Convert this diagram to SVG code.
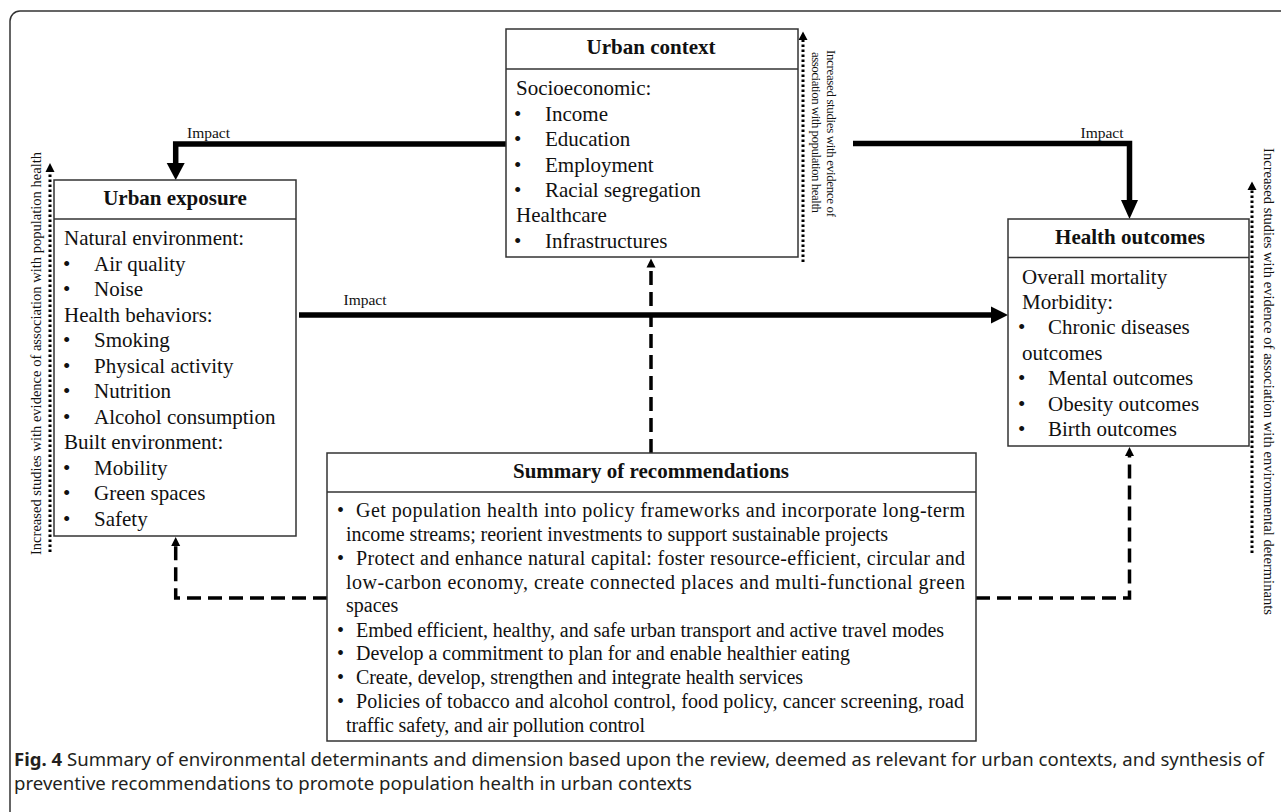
<svg xmlns="http://www.w3.org/2000/svg" width="1281" height="812" viewBox="0 0 1281 812">
<defs>
<style>
.box{fill:#fff;stroke:#333;stroke-width:1.5}
.title{font-family:"Liberation Serif","Times New Roman",serif;font-weight:bold;font-size:21px;fill:#111;text-anchor:middle}
.body{font-family:"Liberation Serif","Times New Roman",serif;font-size:21px;fill:#111}
.sum{font-family:"Liberation Serif","Times New Roman",serif;font-size:20px;fill:#111}
.lbl{font-family:"Liberation Serif","Times New Roman",serif;font-size:15.5px;fill:#111;text-anchor:middle}
.vt{font-family:"Liberation Serif","Times New Roman",serif;font-size:14.5px;fill:#111}
.vt2{font-family:"Liberation Serif","Times New Roman",serif;font-size:13px;fill:#111}
.thick{fill:none;stroke:#000;stroke-width:5.5}
.dash{fill:none;stroke:#000;stroke-width:3.5;stroke-dasharray:14 7}
.dot{fill:none;stroke:#000;stroke-width:3;stroke-dasharray:2.5 2.5}
.cap{font-family:"Noto Sans","Open Sans",sans-serif;font-size:18.5px;fill:#231f20}
</style>
</defs>
<rect x="10" y="11" width="1300" height="820" rx="10" fill="#fff" stroke="#333" stroke-width="1.5"/>

<g id="connectors">
<path class="thick" d="M506,144 H175.7 V164"/>
<polygon points="166.7,163 184.7,163 175.7,180"/>
<text class="lbl" x="208.5" y="137.5">Impact</text>
<path class="thick" d="M853,143.5 H1129.5 V201"/>
<polygon points="1121,200 1138,200 1129.5,219"/>
<text class="lbl" x="1102" y="137.5">Impact</text>
<path class="thick" d="M299,315 H992"/>
<polygon points="991,306.5 991,323.5 1008,315"/>
<text class="lbl" x="365" y="305">Impact</text>
<path class="dash" d="M651,453 V268"/>
<polygon points="646.5,267.5 655.5,267.5 651,258.5"/>
<path class="dash" d="M327,598 H175.7 V546"/>
<polygon points="171.2,546 180.2,546 175.7,537"/>
<path class="dash" d="M976,598 H1129.5 V456"/>
<polygon points="1125,456 1134,456 1129.5,447"/>
<path class="dot" d="M50,552 V172"/>
<polygon points="45.5,172 54.5,172 50,163"/>
<path class="dot" d="M803,262 V40"/>
<polygon points="798.5,40 807.5,40 803,31.5"/>
<path class="dot" d="M1252,553 V190"/>
<polygon points="1247.5,190 1256.5,190 1252,181.5"/>
<text class="vt" transform="translate(40.5,555) rotate(-90)" textLength="403">Increased studies with evidence of association with population health</text>
<text class="vt" transform="translate(1263.5,148) rotate(90)" textLength="467">Increased studies with evidence of association with environmental determinants</text>
<text class="vt2" transform="translate(827,50) rotate(90)" textLength="167">Increased studies with evidence of</text>
<text class="vt2" transform="translate(812,52) rotate(90)" textLength="161">association with population health</text>
</g>

<g id="urban-exposure">
<rect class="box" x="54" y="180" width="242" height="356"/>
<line x1="54" y1="219" x2="296" y2="219" stroke="#333" stroke-width="1.5"/>
<text class="title" x="175" y="205">Urban exposure</text>
<text class="body" x="64" y="245">Natural environment:</text>
<text class="body" x="63" y="270.5">•</text><text class="body" x="94" y="270.5">Air quality</text>
<text class="body" x="63" y="296">•</text><text class="body" x="94" y="296">Noise</text>
<text class="body" x="64" y="321.5">Health behaviors:</text>
<text class="body" x="63" y="347">•</text><text class="body" x="94" y="347">Smoking</text>
<text class="body" x="63" y="372.5">•</text><text class="body" x="94" y="372.5">Physical activity</text>
<text class="body" x="63" y="398">•</text><text class="body" x="94" y="398">Nutrition</text>
<text class="body" x="63" y="423.5">•</text><text class="body" x="94" y="423.5">Alcohol consumption</text>
<text class="body" x="64" y="449">Built environment:</text>
<text class="body" x="63" y="474.5">•</text><text class="body" x="94" y="474.5">Mobility</text>
<text class="body" x="63" y="500">•</text><text class="body" x="94" y="500">Green spaces</text>
<text class="body" x="63" y="525.5">•</text><text class="body" x="94" y="525.5">Safety</text>
</g>

<g id="urban-context">
<rect class="box" x="506" y="29" width="292" height="228"/>
<line x1="506" y1="69" x2="798" y2="69" stroke="#333" stroke-width="1.5"/>
<text class="title" x="651" y="54">Urban context</text>
<text class="body" x="516" y="95">Socioeconomic:</text>
<text class="body" x="514" y="120.5">•</text><text class="body" x="545" y="120.5">Income</text>
<text class="body" x="514" y="146">•</text><text class="body" x="545" y="146">Education</text>
<text class="body" x="514" y="171.5">•</text><text class="body" x="545" y="171.5">Employment</text>
<text class="body" x="514" y="197">•</text><text class="body" x="545" y="197">Racial segregation</text>
<text class="body" x="516" y="222">Healthcare</text>
<text class="body" x="514" y="247.5">•</text><text class="body" x="545" y="247.5">Infrastructures</text>
</g>

<g id="health-outcomes">
<rect class="box" x="1008" y="219" width="241" height="227"/>
<line x1="1008" y1="257.5" x2="1249" y2="257.5" stroke="#333" stroke-width="1.5"/>
<text class="title" x="1130" y="244">Health outcomes</text>
<text class="body" x="1022" y="283.5">Overall mortality</text>
<text class="body" x="1022" y="309">Morbidity:</text>
<text class="body" x="1018" y="334">•</text><text class="body" x="1048" y="334">Chronic diseases</text>
<text class="body" x="1022" y="359.5">outcomes</text>
<text class="body" x="1018" y="385">•</text><text class="body" x="1048" y="385">Mental outcomes</text>
<text class="body" x="1018" y="410.5">•</text><text class="body" x="1048" y="410.5">Obesity outcomes</text>
<text class="body" x="1018" y="436">•</text><text class="body" x="1048" y="436">Birth outcomes</text>
</g>

<g id="summary">
<rect class="box" x="327" y="453" width="649" height="288"/>
<line x1="327" y1="492" x2="976" y2="492" stroke="#333" stroke-width="1.5"/>
<text class="title" x="651" y="478">Summary of recommendations</text>
<text class="sum" x="337" y="517">•</text><text class="sum" x="356" y="517" textLength="609">Get population health into policy frameworks and incorporate long-term</text>
<text class="sum" x="346" y="541" textLength="542">income streams; reorient investments to support sustainable projects</text>
<text class="sum" x="337" y="564.5">•</text><text class="sum" x="356" y="564.5" textLength="609">Protect and enhance natural capital: foster resource-efficient, circular and</text>
<text class="sum" x="346" y="588.5" textLength="619">low-carbon economy, create connected places and multi-functional green</text>
<text class="sum" x="346" y="612">spaces</text>
<text class="sum" x="337" y="636.5">•</text><text class="sum" x="356" y="636.5" textLength="588">Embed efficient, healthy, and safe urban transport and active travel modes</text>
<text class="sum" x="337" y="660">•</text><text class="sum" x="356" y="660" textLength="494">Develop a commitment to plan for and enable healthier eating</text>
<text class="sum" x="337" y="684">•</text><text class="sum" x="356" y="684" textLength="447">Create, develop, strengthen and integrate health services</text>
<text class="sum" x="337" y="708">•</text><text class="sum" x="356" y="708" textLength="608">Policies of tobacco and alcohol control, food policy, cancer screening, road</text>
<text class="sum" x="346" y="731.5" textLength="299">traffic safety, and air pollution control</text>
</g>

<g id="caption">
<text class="cap" x="14" y="766" textLength="1250" lengthAdjust="spacingAndGlyphs"><tspan font-weight="bold">Fig. 4</tspan> Summary of environmental determinants and dimension based upon the review, deemed as relevant for urban contexts, and synthesis of</text>
<text class="cap" x="14" y="790" textLength="678" lengthAdjust="spacingAndGlyphs">preventive recommendations to promote population health in urban contexts</text>
</g>
</svg>
